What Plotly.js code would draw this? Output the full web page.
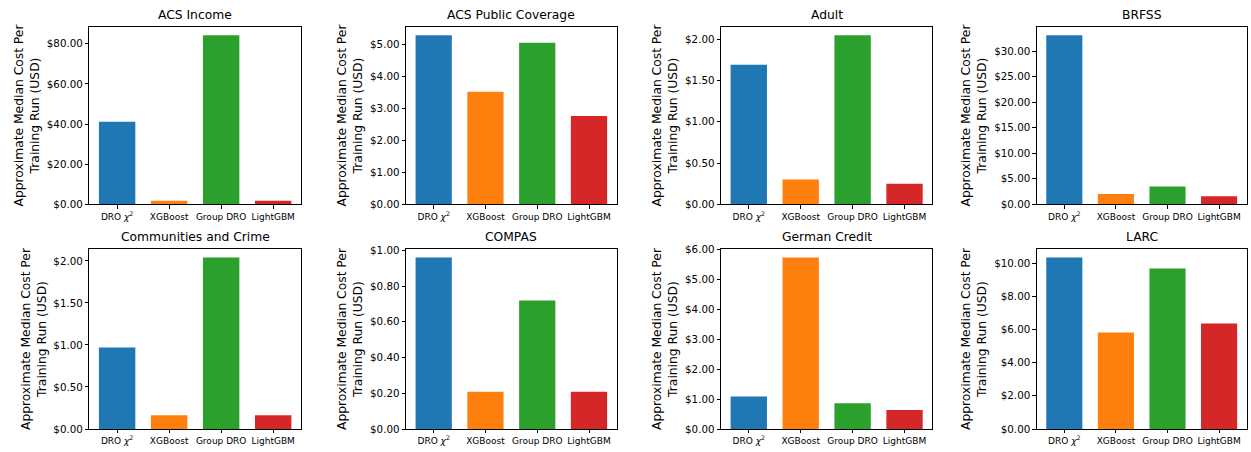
<!DOCTYPE html>
<html>
<head>
<meta charset="utf-8">
<script src="https://cdn.plot.ly/plotly-3.0.1.min.js"></script>
<style>html,body{margin:0;padding:0;background:#fff;}#chart{width:1251px;height:452px;}</style>
</head>
<body>
<div id="chart"></div>
<script>
// ---- data ----
const categories = ['DRO <i>χ</i><sup>2</sup>', 'XGBoost', 'Group DRO', 'LightGBM'];
const panelTitles = ['ACS Income', 'ACS Public Coverage', 'Adult', 'BRFSS',
                     'Communities and Crime', 'COMPAS', 'German Credit', 'LARC'];
const acsIncome         = [41.2, 1.8, 84.3, 1.8];
const acsPublicCoverage = [5.29, 3.52, 5.05, 2.76];
const adult             = [1.69, 0.30, 2.05, 0.25];
const brfss             = [33.1, 2.0, 3.5, 1.56];
const communitiesCrime  = [0.97, 0.163, 2.04, 0.163];
const compas            = [0.96, 0.208, 0.72, 0.208];
const germanCredit      = [1.09, 5.74, 0.86, 0.64];
const larc              = [10.34, 5.82, 9.68, 6.36];
const tickSteps         = [20, 1, 0.5, 5, 0.5, 0.2, 1, 2];
const yTitle = 'Approximate Median Cost Per<br>Training Run (USD)';

// ---- styling / layout ----
const series = [acsIncome, acsPublicCoverage, adult, brfss, communitiesCrime, compas, germanCredit, larc];
const barColors = ['#1f77b4', '#ff7f0e', '#2ca02c', '#d62728'];
const W = 1251, H = 452;
const colPx = [[89.3, 301], [406, 616.7], [721, 932.3], [1036.7, 1246.7]];
const rowPx = [[26.7, 204.3], [249, 429]];
const FONT = 'DejaVu Sans, sans-serif';

const data = [];
const layout = {
  width: W, height: H,
  margin: {l: 0, r: 0, t: 0, b: 0},
  paper_bgcolor: '#fff', plot_bgcolor: '#fff',
  showlegend: false,
  font: {family: FONT, color: '#000'},
  annotations: []
};

series.forEach((vals, i) => {
  const n = i + 1;
  const sfx = n === 1 ? '' : String(n);
  const col = i % 4, row = Math.floor(i / 4);
  const xd = [colPx[col][0] / W, colPx[col][1] / W];
  const yd = [1 - rowPx[row][1] / H, 1 - rowPx[row][0] / H];
  data.push({
    type: 'bar',
    x: categories,
    y: vals,
    width: 0.7,
    marker: {color: barColors, line: {width: 0}},
    xaxis: 'x' + sfx, yaxis: 'y' + sfx,
    hoverinfo: 'x+y'
  });
  const ymax = Math.max(...vals) * 1.05;
  layout['xaxis' + sfx] = {
    domain: xd, anchor: 'y' + sfx, type: 'category',
    range: [-0.535, 3.535],
    showline: true, mirror: true, linecolor: '#000', linewidth: 0.8,
    ticks: 'outside', ticklen: 3.5, tickcolor: '#000', tickwidth: 0.8,
    tickfont: {size: 9, family: FONT, color: '#000'},
    showgrid: false, zeroline: false, fixedrange: true
  };
  layout['yaxis' + sfx] = {
    domain: yd, anchor: 'x' + sfx,
    range: [0, ymax],
    dtick: tickSteps[i], tick0: 0,
    tickprefix: '$', tickformat: '.2f',
    showline: true, mirror: true, linecolor: '#000', linewidth: 0.8,
    ticks: 'outside', ticklen: 3.5, tickcolor: '#000', tickwidth: 0.8,
    tickfont: {size: 10.3, family: FONT, color: '#000'},
    showgrid: false, zeroline: false, fixedrange: true,
    title: {text: yTitle, font: {size: 12.3, family: FONT, color: '#000'}, standoff: 4}
  };
  layout.annotations.push({
    text: panelTitles[i],
    xref: 'paper', yref: 'paper',
    x: (xd[0] + xd[1]) / 2, y: yd[1],
    xanchor: 'center', yanchor: 'bottom', yshift: 3,
    showarrow: false,
    font: {size: 12.3, family: FONT, color: '#000'}
  });
});

Plotly.newPlot('chart', data, layout, {displayModeBar: false, staticPlot: false});
</script>
</body>
</html>
